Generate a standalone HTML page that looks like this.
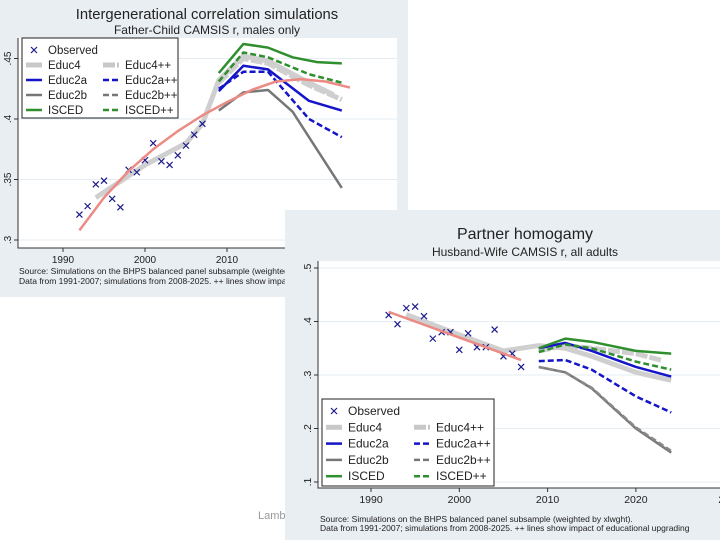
<!DOCTYPE html>
<html><head><meta charset="utf-8">
<style>
body{margin:0;width:720px;height:540px;background:#fff;overflow:hidden;font-family:"Liberation Sans",sans-serif}
svg{display:block}
</style></head>
<body>
<svg id="s" width="720" height="540" xmlns="http://www.w3.org/2000/svg" font-family="Liberation Sans, sans-serif">
<rect x="0" y="0" width="408" height="297" fill="#e9eef2"/>
<text x="207" y="19" font-size="14.8" text-anchor="middle" fill="#222">Intergenerational correlation simulations</text>
<text x="207" y="34" font-size="12" text-anchor="middle" fill="#222">Father-Child CAMSIS r, males only</text>
<rect x="18" y="38" width="379" height="210" fill="#fff"/>
<g id="c1"></g>
<text x="19" y="274" font-size="8.5" fill="#222">Source: Simulations on the BHPS balanced panel subsample (weighted by xlwght).</text>
<text x="19" y="284" font-size="8.5" fill="#222">Data from 1991-2007; simulations from 2008-2025. ++ lines show impact of educational upgrading</text>
<text x="258" y="519" font-size="11" fill="#999">Lamb</text>
<rect x="285" y="210" width="435" height="330" fill="#e9eef2"/>
<text x="525" y="239" font-size="16" text-anchor="middle" fill="#222">Partner homogamy</text>
<text x="525" y="256" font-size="12" text-anchor="middle" fill="#222">Husband-Wife CAMSIS r, all adults</text>
<rect x="318" y="261" width="402" height="227" fill="#fff"/>
<g id="c2"></g>
<text x="320" y="522" font-size="8.5" fill="#222">Source: Simulations on the BHPS balanced panel subsample (weighted by xlwght).</text>
<text x="320" y="531" font-size="8.5" fill="#222">Data from 1991-2007; simulations from 2008-2025. ++ lines show impact of educational upgrading</text>
</svg>
<script>
// ---- Chart 1 data ----
const c1ObsYears=[1992,1993,1994,1995,1996,1997,1998,1999,2000,2001,2002,2003,2004,2005,2006,2007];
const c1ObsVals=[.321,.328,.346,.349,.334,.327,.358,.356,.366,.380,.365,.362,.370,.378,.387,.396];
const c1Educ4Years=[1994,2000,2005,2007,2009,2012,2015,2020,2023];
const c1Educ4Vals=[.335,.362,.380,.396,.432,.452,.448,.430,.420];
const c1Educ4ppYears=[2009,2012,2015,2020,2024];
const c1Educ4ppVals=[.430,.450,.446,.428,.416];
const c1SimYears=[2009,2012,2015,2020,2024];
const c1Educ2aVals=[.423,.444,.441,.415,.407];
const c1Educ2appVals=[.425,.439,.439,.400,.385];
const c1Educ2bYears=[2009,2012,2015,2018,2024];
const c1Educ2bVals=[.407,.422,.424,.406,.343];
const c1IscedYears=[2009,2012,2015,2018,2021,2024];
const c1IscedVals=[.438,.462,.459,.451,.447,.446];
const c1IscedppVals=[.431,.455,.451,.437,.430];
const c1FitYears=[1992,1995,1998,2001,2004,2007,2010,2013,2016,2019,2022,2025];
const c1FitVals=[.308,.335,.357,.375,.390,.403,.414,.424,.431,.433,.431,.426];
const c1YTicks=[.3,.35,.4,.45];const c1YLabels=[".3",".35",".4",".45"];
const c1XTicks=[1990,2000,2010,2020];
// ---- Chart 2 data ----
const c2ObsYears=[1992,1993,1994,1995,1996,1997,1998,1999,2000,2001,2002,2003,2004,2005,2006,2007];
const c2ObsVals=[.412,.395,.425,.428,.410,.368,.380,.380,.347,.378,.352,.352,.385,.335,.340,.315];
const c2FitYears=[1992,2007];const c2FitVals=[.418,.328];
const c2Educ4Years=[1994,2000,2005,2009,2012,2015,2020,2024];
const c2Educ4Vals=[.413,.375,.345,.355,.350,.335,.305,.290];
const c2Educ4ppYears=[2009,2012,2015,2020,2023];
const c2Educ4ppVals=[.345,.355,.350,.340,.327];
const c2SimYears=[2009,2012,2015,2020,2024];
const c2Educ2aVals=[.350,.360,.345,.315,.297];
const c2Educ2appVals=[.326,.328,.310,.260,.230];
const c2Educ2bVals=[.315,.305,.275,.200,.155];
const c2Educ2bppVals=[.315,.305,.276,.202,.158];
const c2IscedVals=[.350,.368,.362,.345,.340];
const c2IscedppVals=[.343,.357,.350,.325,.310];
const c2YTicks=[.1,.2,.3,.4,.5];const c2YLabels=[".1",".2",".3",".4",".5"];
const c2XTicks=[1990,2000,2010,2020,2030];const c2XLabels=["1990","2000","2010","2020","20"];

const NS="http://www.w3.org/2000/svg";
function mk(parent,tag,attrs){const e=document.createElementNS(NS,tag);for(const k in attrs)e.setAttribute(k,attrs[k]);parent.appendChild(e);return e;}
function line(g,xs,ys,X,Y,color,w,dash,name){
  const p=mk(g,'polyline',{points:xs.map((x,i)=>X(x)+','+Y(ys[i])).join(' '),fill:'none',stroke:color,'stroke-width':w,'stroke-dasharray':dash||'none','stroke-linejoin':'round'});
  
  
}
function cross(g,x,y,s,name){
  const p=mk(g,'path',{d:`M${x-s},${y-s}L${x+s},${y+s}M${x-s},${y+s}L${x+s},${y-s}`,stroke:'#1a1a8c','stroke-width':1.2});
  
  
}
function axes(g,X,Y,left,bottom,top,right,yt,yl,xt,xl,fs){
  yt.forEach((v,i)=>{
    const gl=mk(g,'line',{x1:left,x2:right,y1:Y(v),y2:Y(v),stroke:'#e6edf2','stroke-width':1});
    
    mk(g,'line',{x1:left-4,x2:left,y1:Y(v),y2:Y(v),stroke:'#333'});
    const t=mk(g,'text',{x:left-7,y:Y(v),'font-size':fs,'text-anchor':'middle',fill:'#222',transform:`rotate(-90 ${left-7} ${Y(v)})`});
    t.textContent=yl[i];
    
  });
  xt.forEach((v,i)=>{
    mk(g,'line',{x1:X(v),x2:X(v),y1:bottom,y2:bottom+4,stroke:'#333'});
    const t=mk(g,'text',{x:X(v),y:bottom+15,'font-size':fs,'text-anchor':'middle',fill:'#222'});
    t.textContent=xl[i];
    
  });
  const a=mk(g,'path',{d:`M${left},${top}V${bottom}H${right}`,fill:'none',stroke:'#333','stroke-width':1});
  
}
function legend(g,x,y,w,h,rh,fs,colOff){
  const b=mk(g,'rect',{x:x,y:y,width:w,height:h,fill:'#fff',stroke:'#222','stroke-width':1});
  
  cross(g,x+12,y+12,3,'legend-observed-marker');
  let t=mk(g,'text',{x:x+26,y:y+16,'font-size':fs,fill:'#222'});t.textContent='Observed';
  
  const items=[['Educ4','#c8c8c8',5,'12,2'],['Educ2a','#1414c8',2.5,'6,3'],['Educ2b','#777',2.5,'6,3'],['ISCED','#2f8f2f',2.5,'6,3']];
  items.forEach((it,i)=>{
    const yy=y+12+rh*(i+1);
    [[0,'none',it[0]],[colOff,it[3],it[0]+'++']].forEach(c=>{
      const l=mk(g,'line',{x1:x+4+c[0],x2:x+20+c[0],y1:yy,y2:yy,stroke:it[1],'stroke-width':it[2],'stroke-dasharray':c[1]});
      
      const tt=mk(g,'text',{x:x+26+c[0],y:yy+4,'font-size':fs,fill:'#222'});tt.textContent=c[2];
      
    });
  });
}
// Chart 1
(function(){
  const g=document.getElementById('c1');
  const X=yr=>63+(yr-1990)*8.2, Y=v=>240-(v-.3)*1210;
  axes(g,X,Y,18,248,38,397,c1YTicks,c1YLabels,c1XTicks,c1XTicks.map(String),10);
  line(g,c1Educ4Years,c1Educ4Vals,X,Y,'#cfcfcf',5,null,'c1-educ4-line');
  line(g,c1Educ4ppYears,c1Educ4ppVals,X,Y,'#cfcfcf',5,'12,2','c1-educ4pp-line');
  line(g,c1Educ2bYears,c1Educ2bVals,X,Y,'#777',2.5,null,'c1-educ2b-line');
  line(g,c1SimYears,c1Educ2aVals,X,Y,'#1414c8',2.5,null,'c1-educ2a-line');
  line(g,c1SimYears,c1Educ2appVals,X,Y,'#1414c8',2.5,'6,3','c1-educ2app-line');
  line(g,c1IscedYears,c1IscedVals,X,Y,'#2f8f2f',2.5,null,'c1-isced-line');
  line(g,c1SimYears,c1IscedppVals,X,Y,'#2f8f2f',2.5,'6,3','c1-iscedpp-line');
  c1ObsYears.forEach((yr,i)=>cross(g,X(yr),Y(c1ObsVals[i]),3,'c1-observed-point'));
  line(g,c1FitYears,c1FitVals,X,Y,'#ec8a84',2.5,null,'c1-fit-curve');
  legend(g,22,38,156,80,15,11.5,77);
})();
// Chart 2
(function(){
  const g=document.getElementById('c2');
  const X=yr=>371+(yr-1990)*8.83, Y=v=>482-(v-.1)*535;
  axes(g,X,Y,318,488,261,720,c2YTicks,c2YLabels,c2XTicks,c2XLabels,10.5);
  line(g,c2Educ4Years,c2Educ4Vals,X,Y,'#cfcfcf',5,null,'c2-educ4-line');
  line(g,c2Educ4ppYears,c2Educ4ppVals,X,Y,'#cfcfcf',5,'12,2','c2-educ4pp-line');
  line(g,c2SimYears,c2Educ2bVals,X,Y,'#777',2.5,null,'c2-educ2b-line');
  line(g,c2SimYears,c2Educ2bppVals,X,Y,'#888',2.5,'6,3','c2-educ2bpp-line');
  line(g,c2SimYears,c2Educ2aVals,X,Y,'#1414c8',2.5,null,'c2-educ2a-line');
  line(g,c2SimYears,c2Educ2appVals,X,Y,'#1414c8',2.5,'6,3','c2-educ2app-line');
  line(g,c2SimYears,c2IscedVals,X,Y,'#2f8f2f',2.5,null,'c2-isced-line');
  line(g,c2SimYears,c2IscedppVals,X,Y,'#2f8f2f',2.5,'6,3','c2-iscedpp-line');
  c2ObsYears.forEach((yr,i)=>cross(g,X(yr),Y(c2ObsVals[i]),3,'c2-observed-point'));
  line(g,c2FitYears,c2FitVals,X,Y,'#ec8a84',2.5,null,'c2-fit-line');
  legend(g,322,399,172,87,16.3,12,88);
})();
</script>
</body></html>
